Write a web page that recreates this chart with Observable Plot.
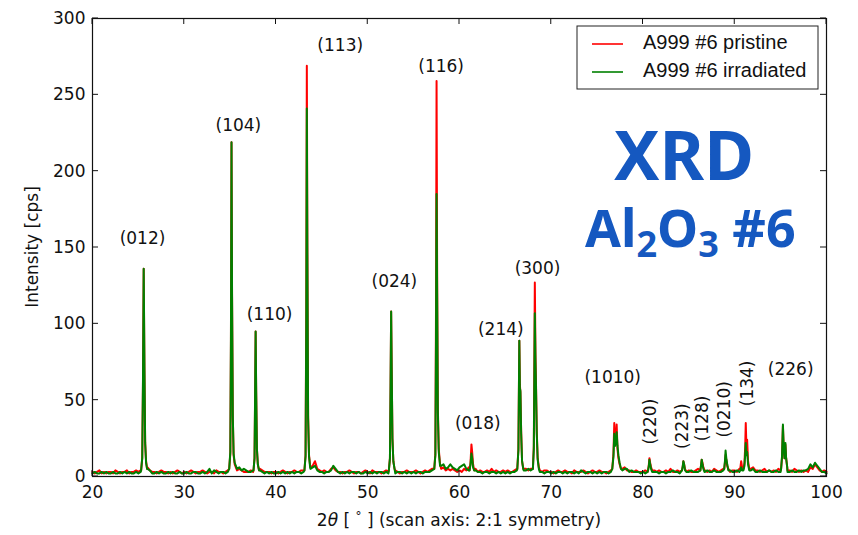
<!DOCTYPE html>
<html><head><meta charset="utf-8">
<script src="https://cdn.jsdelivr.net/npm/d3@7"></script>
<script src="https://cdn.jsdelivr.net/npm/@observablehq/plot@0.6"></script>
<style>body{margin:0;background:#fff}</style>
</head><body><div id="chart"></div>
<script>
// baseline noise, x = 20 + i*0.25
const xStart = 20, xStep = 0.25;
const baseRed = [
3,2,3,4,2,3,2,3,3,2,4,3,2,3,3,4,2,3,3,4,
3,4,5,6,6,4,3,3,2,3,4,3,3,2,3,2,3,4,3,2,
3,2,3,4,3,2,3,3,4,3,2,3,3,2,4,3,3,2,3,4,
5,6,5,4,5,4,3,3,3,4,3,4,5,5,4,3,3,3,2,3,
3,2,3,4,3,2,3,3,4,3,3,4,4,5,8,6,7,10,5,4,
3,4,3,3,5,6,4,3,3,2,3,3,4,3,2,3,3,2,3,4,
3,2,4,3,3,3,2,3,4,3,3,4,4,3,2,3,3,4,3,3,
3,4,3,2,3,4,3,4,5,6,5,4,5,6,4,5,4,5,4,3,
4,3,5,4,6,7,7,5,3,4,3,3,4,3,5,3,4,3,3,4,
3,4,3,3,4,5,6,6,5,5,4,5,4,3,3,4,3,4,4,3,
3,2,3,4,3,3,4,3,3,2,4,3,3,3,4,3,2,3,4,3,
3,4,3,3,2,3,4,3,5,6,6,5,6,4,4,3,3,4,3,3,
3,4,3,4,5,4,3,4,3,3,4,3,5,3,3,4,3,5,4,3,
4,3,3,4,5,4,3,4,3,4,3,5,4,3,4,5,3,4,3,4,
4,3,5,4,7,9,6,5,6,4,4,3,4,5,3,4,3,4,3,5,
4,6,5,4,4,3,5,4,3,4,3,4,3,6,5,8,6,4,3,4,
3];
const baseGreen = [
2,3,2,2,3,2,3,2,2,3,2,2,3,2,3,2,3,2,2,3,
2,3,4,5,5,4,2,2,3,2,3,2,2,3,2,3,2,2,3,2,
2,3,2,2,3,3,2,2,3,2,3,5,2,4,3,2,3,3,2,3,
6,8,6,5,6,4,5,4,3,3,4,3,6,4,3,2,3,2,3,2,
2,3,2,3,2,3,2,3,2,3,3,2,3,4,6,5,6,7,4,3,
3,2,3,3,4,7,5,3,2,3,2,3,2,3,3,2,3,2,2,3,
2,3,2,3,2,3,3,2,3,2,3,3,2,3,3,2,3,2,3,2,
3,2,3,3,2,3,3,3,4,7,6,5,7,8,5,6,8,6,5,4,
6,7,8,5,4,6,5,4,3,3,2,3,3,2,3,3,2,3,2,3,
2,3,2,3,3,4,5,5,4,4,5,4,3,3,2,3,3,2,3,3,
2,3,2,3,3,2,3,2,3,3,2,3,2,4,3,2,3,3,2,3,
2,3,2,3,3,2,3,3,4,5,6,4,5,5,3,4,3,3,3,2,
3,2,3,3,4,3,3,2,3,3,2,3,3,4,3,3,2,3,4,3,
3,4,3,3,3,4,3,3,4,3,3,4,3,3,3,4,3,3,4,3,
3,4,3,3,5,6,4,4,5,3,3,4,3,3,3,4,3,3,4,3,
3,4,4,3,3,4,3,3,4,3,4,4,5,8,6,9,7,5,3,3,
2];
// Bragg peaks [2theta, counts]
const peaksRed = [
[[25.30,4],[25.42,12],[25.50,60],[25.58,136],[25.66,70],[25.74,22],[25.84,10],[25.95,5]],
[[34.90,5],[35.02,15],[35.09,90],[35.15,219],[35.21,120],[35.29,40],[35.38,14],[35.50,8]],
[[37.55,4],[37.66,12],[37.72,50],[37.78,95],[37.84,55],[37.92,18],[38.02,8],[38.15,4]],
[[43.10,4],[43.22,14],[43.30,110],[43.36,269],[43.42,150],[43.50,40],[43.60,14],[43.72,7]],
[[52.30,4],[52.42,12],[52.49,60],[52.55,108],[52.61,70],[52.69,25],[52.79,10],[52.92,5]],
[[57.25,5],[57.37,15],[57.44,110],[57.50,259],[57.56,140],[57.64,45],[57.74,18],[57.88,8]],
[[61.10,4],[61.20,9],[61.30,21],[61.38,16],[61.48,8],[61.60,4]],
[[66.30,5],[66.42,18],[66.52,89],[66.58,60],[66.64,55],[66.72,30],[66.82,10],[66.95,5]],
[[68.00,5],[68.10,20],[68.21,127],[68.28,80],[68.34,60],[68.42,30],[68.52,12],[68.65,6]],
[[76.65,5],[76.78,15],[76.87,35],[76.95,22],[77.05,25],[77.13,34],[77.22,18],[77.32,12],[77.45,8],[77.60,5]],
[[80.55,4],[80.64,8],[80.70,12],[80.78,9],[80.88,6],[81.00,4]],
[[84.25,4],[84.34,7],[84.40,10],[84.48,8],[84.58,5]],
[[86.25,4],[86.34,8],[86.40,11],[86.48,9],[86.58,6],[86.70,4]],
[[88.85,5],[88.93,9],[89.00,14],[89.08,11],[89.18,7],[89.30,5]],
[[90.60,5],[90.70,10],[90.80,6],[90.95,5],[91.06,9],[91.14,20],[91.20,35],[91.27,20],[91.35,24],[91.45,10],[91.58,5]],
[[95.05,5],[95.15,12],[95.25,33],[95.33,19],[95.42,12],[95.52,21],[95.60,12],[95.72,6]]
];
const peaksGreen = [
[[25.30,4],[25.42,12],[25.50,62],[25.58,136],[25.66,72],[25.74,22],[25.84,9],[25.95,5]],
[[34.90,5],[35.02,16],[35.09,92],[35.15,219],[35.21,118],[35.29,40],[35.38,15],[35.50,9]],
[[37.55,4],[37.66,12],[37.72,52],[37.78,95],[37.84,56],[37.92,18],[38.02,8],[38.15,4]],
[[43.10,4],[43.22,13],[43.30,100],[43.36,241],[43.42,140],[43.50,38],[43.60,13],[43.72,6]],
[[52.30,4],[52.42,12],[52.49,62],[52.55,108],[52.61,70],[52.69,25],[52.79,10],[52.92,5]],
[[57.25,5],[57.37,14],[57.44,90],[57.50,185],[57.56,120],[57.64,42],[57.74,16],[57.88,7]],
[[61.10,4],[61.20,8],[61.30,15],[61.38,12],[61.48,6],[61.60,4]],
[[66.30,5],[66.42,17],[66.52,89],[66.58,58],[66.64,56],[66.72,28],[66.82,10],[66.95,5]],
[[68.00,5],[68.10,18],[68.21,107],[68.28,75],[68.34,58],[68.42,28],[68.52,11],[68.65,5]],
[[76.65,5],[76.78,13],[76.87,28],[76.95,20],[77.05,22],[77.13,29],[77.22,20],[77.32,14],[77.45,9],[77.60,5]],
[[80.55,4],[80.64,7],[80.70,11],[80.78,8],[80.88,5],[81.00,3]],
[[84.25,4],[84.34,7],[84.40,10],[84.48,8],[84.58,4]],
[[86.25,4],[86.34,8],[86.40,11],[86.48,8],[86.58,5],[86.70,3]],
[[88.85,5],[88.93,10],[89.00,17],[89.08,12],[89.18,8],[89.30,4]],
[[90.60,4],[90.70,6],[90.80,4],[90.95,4],[91.06,7],[91.14,15],[91.20,22],[91.27,14],[91.35,16],[91.45,8],[91.58,4]],
[[95.05,5],[95.15,13],[95.25,34],[95.33,20],[95.42,12],[95.52,22],[95.60,12],[95.72,6]]
];
const xTicks = [20,30,40,50,60,70,80,90,100];
const yTicks = [0,50,100,150,200,250,300];
const hklLabels = ["(012)","(104)","(110)","(113)","(024)","(116)","(018)","(214)","(300)","(1010)","(226)"];
const hklX = [25.45,35.9,39.3,47.0,52.9,58.0,62.0,64.5,68.5,76.7,96.1];
const hklY = [156,230,106,282,128,268.5,35,96.5,136,65,70];
const rotLabels = ["(220)","(223)","(128)","(0210)","(134)"];
const rotX = [80.8,84.3,86.5,88.9,91.4];
const rotY = [36,33,38,44,61];
const seriesNames = ["A999 #6 pristine","A999 #6 irradiated"];
const seriesColors = ["#ff0000","#008000"];

function build(base, peaks) {
  const win = peaks.map(p => [p[0][0], p[p.length-1][0]]);
  const pts = [];
  base.forEach((y, i) => {
    const x = xStart + i * xStep;
    if (!win.some(([a, b]) => x >= a && x <= b)) pts.push({x, y});
  });
  peaks.forEach(p => p.forEach(([x, y]) => pts.push({x, y})));
  pts.sort((a, b) => a.x - b.x);
  return pts;
}
const red = build(baseRed, peaksRed);
const green = build(baseGreen, peaksGreen);

const chart = Plot.plot({
  width: 858, height: 535,
  marginLeft: 92, marginRight: 32, marginTop: 18, marginBottom: 59,
  x: {domain: [20, 100]},
  y: {domain: [0, 300]},
  style: {fontFamily: "DejaVu Sans", fontSize: "17px", background: "white", color: "#111"},
  marks: [
    Plot.axisX(xTicks, {tickSize: 0, tickPadding: 9, label: null, fontSize: 17}),
    Plot.axisY(yTicks, {tickSize: 0, tickPadding: 7, label: null, fontSize: 17}),
    Plot.line(red, {x: "x", y: "y", stroke: seriesColors[0], strokeWidth: 2}),
    Plot.line(green, {x: "x", y: "y", stroke: seriesColors[1], strokeWidth: 2}),
    Plot.text(hklLabels, {x: (d, i) => hklX[i], y: (d, i) => hklY[i], text: d => d, fontSize: 17, fill: "#111"}),
    Plot.text(rotLabels, {x: (d, i) => rotX[i], y: (d, i) => rotY[i], text: d => d, rotate: -90, fontSize: 17, fill: "#111"}),
    Plot.frame({stroke: "#111", strokeWidth: 1.2})
  ]
});
document.getElementById("chart").appendChild(chart);

const svg = d3.select(chart);
const sx = chart.scale("x"), sy = chart.scale("y");
const [x0, x1] = sx.range, [y0, y1] = sy.range; // y0 bottom, y1 top
const tl = 6;
const g = svg.append("g").attr("stroke", "#111").attr("stroke-width", 1);
xTicks.forEach(v => {
  const px = sx.apply(v);
  g.append("line").attr("x1", px).attr("x2", px).attr("y1", y0).attr("y2", y0 - tl);
  g.append("line").attr("x1", px).attr("x2", px).attr("y1", y1).attr("y2", y1 + tl);
});
yTicks.forEach(v => {
  const py = sy.apply(v);
  g.append("line").attr("x1", x0).attr("x2", x0 + tl).attr("y1", py).attr("y2", py);
  g.append("line").attr("x1", x1).attr("x2", x1 - tl).attr("y1", py).attr("y2", py);
});

// axis labels
svg.append("text").attr("transform", `translate(33,${(y0 + y1) / 2}) rotate(-90)`)
  .attr("text-anchor", "middle").attr("dominant-baseline", "middle")
  .attr("font-family", "DejaVu Sans").attr("font-size", 17).attr("fill", "#111")
  .text("Intensity [cps]");
const xl = svg.append("text").attr("x", (x0 + x1) / 2).attr("y", 526)
  .attr("text-anchor", "middle").attr("font-family", "DejaVu Sans").attr("font-size", 17).attr("fill", "#111");
xl.append("tspan").text("2");
xl.append("tspan").attr("font-style", "italic").text("θ");
xl.append("tspan").text(" [ ");
xl.append("tspan").attr("font-size", 12).attr("dy", -6).text("°");
xl.append("tspan").attr("dy", 6).text(" ] (scan axis: 2:1 symmetry)");

// legend
const lg = svg.append("g");
lg.append("rect").attr("x", 577).attr("y", 26).attr("width", 241).attr("height", 63)
  .attr("fill", "white").attr("stroke", "#222").attr("stroke-width", 1);
seriesNames.forEach((n, i) => {
  const yy = 44 + i * 28;
  lg.append("line").attr("x1", 592).attr("x2", 623).attr("y1", yy).attr("y2", yy)
    .attr("stroke", seriesColors[i]).attr("stroke-width", 1.6);
  lg.append("text").attr("x", 643).attr("y", yy).attr("dominant-baseline", "middle")
    .attr("text-anchor", "start")
    .attr("font-family", "Liberation Sans").attr("font-size", 20).attr("fill", "#111").text(n);
});

// big annotation
const blue = "#1558c0";
svg.append("text").attr("x", 684).attr("y", 180).attr("text-anchor", "middle")
  .attr("font-family", "Noto Sans").attr("font-weight", "bold").attr("font-size", 68)
  .attr("fill", blue).text("XRD");
const al = svg.append("text").attr("x", 585).attr("y", 247).attr("text-anchor", "start")
  .attr("font-family", "Noto Sans").attr("font-weight", "bold").attr("font-size", 52).attr("fill", blue);
al.append("tspan").text("Al");
al.append("tspan").attr("font-size", 36).attr("dy", 10).text("2");
al.append("tspan").attr("dy", -10).text("O");
al.append("tspan").attr("font-size", 36).attr("dy", 10).text("3");
al.append("tspan").attr("dy", -10).text(" #6");
</script>
</body></html>
